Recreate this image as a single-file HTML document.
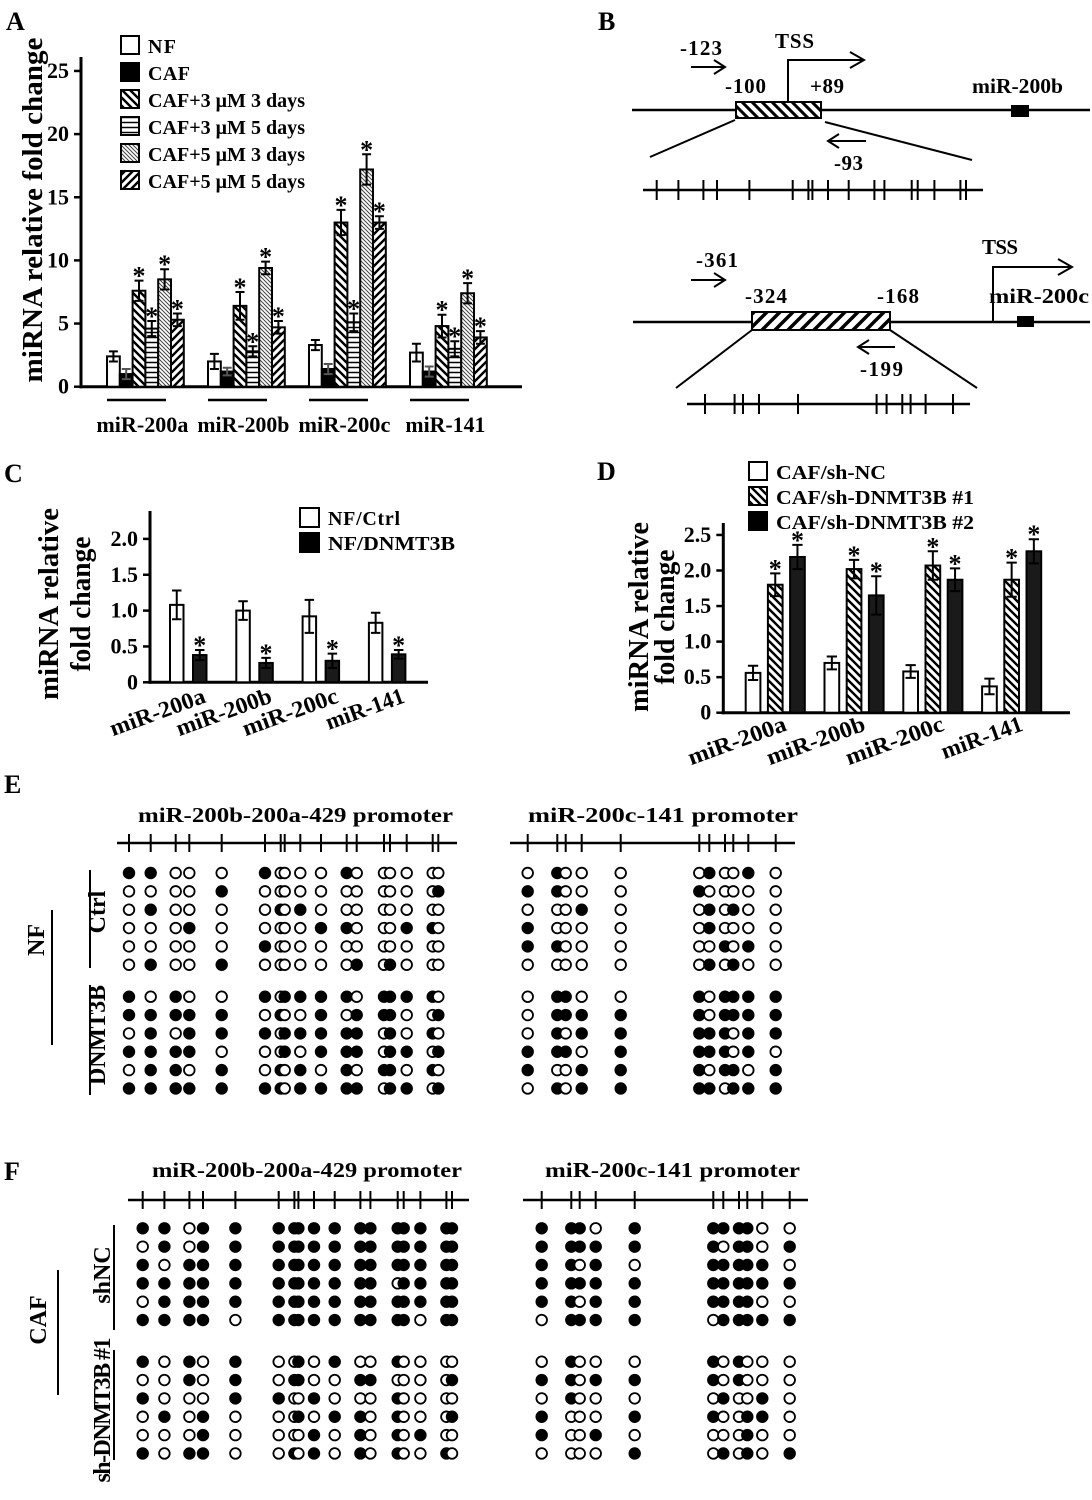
<!DOCTYPE html>
<html><head><meta charset="utf-8"><style>
body{margin:0;background:#fff}
svg{display:block;font-family:"Liberation Serif",serif;font-weight:bold}
</style></head><body>
<svg id="fig" width="1092" height="1500" viewBox="0 0 1092 1500">
<defs>
<pattern id="pBack" width="8" height="8" patternUnits="userSpaceOnUse"><rect width="8" height="8" fill="#fff"/><path d="M-2,-2 L10,10 M-2,6 L2,10 M6,-2 L10,2" stroke="#000" stroke-width="2.4"/></pattern>
<pattern id="pFwd" width="8" height="8" patternUnits="userSpaceOnUse"><rect width="8" height="8" fill="#fff"/><path d="M-2,10 L10,-2 M-2,2 L2,-2 M6,10 L10,6" stroke="#000" stroke-width="2.4"/></pattern>
<pattern id="pHor" width="6" height="5" patternUnits="userSpaceOnUse"><rect width="6" height="5" fill="#fff"/><path d="M0,2.5 L6,2.5" stroke="#000" stroke-width="1.5"/></pattern>
<pattern id="pThin" width="4" height="4" patternUnits="userSpaceOnUse"><rect width="4" height="4" fill="#fff"/><path d="M-1,-1 L5,5 M-1,3 L1,5 M3,-1 L5,1" stroke="#444" stroke-width="1"/></pattern>
<pattern id="pBox" width="10" height="10" patternUnits="userSpaceOnUse"><rect width="10" height="10" fill="#fff"/><path d="M-2,-2 L12,12 M-2,8 L2,12 M8,-2 L12,2" stroke="#000" stroke-width="3"/></pattern>
<pattern id="pBox2" width="13" height="13" patternUnits="userSpaceOnUse"><rect width="13" height="13" fill="#fff"/><path d="M-2,15 L15,-2 M-2,2 L2,-2 M11,15 L15,11" stroke="#000" stroke-width="3.5"/></pattern>
</defs>

<text x="6" y="30" font-size="26">A</text>
<text x="598" y="30" font-size="26">B</text>
<text x="4" y="482" font-size="26">C</text>
<text x="597" y="480" font-size="26">D</text>
<text x="4" y="793" font-size="26">E</text>
<text x="4" y="1180" font-size="26">F</text>

<g>
<text transform="translate(42,210) rotate(-90)" text-anchor="middle" font-size="28" textLength="345" lengthAdjust="spacingAndGlyphs">miRNA relative fold change</text>
<g font-size="20">
<rect x="121" y="36" width="18" height="18" fill="#fff" stroke="#000" stroke-width="2"/>
<text x="148" y="53" textLength="28">NF</text>
<rect x="121" y="63" width="18" height="18" fill="#000" stroke="#000" stroke-width="2"/>
<text x="148" y="80" textLength="42">CAF</text>
<rect x="121" y="90" width="18" height="18" fill="url(#pBack)" stroke="#000" stroke-width="2"/>
<text x="148" y="107" textLength="157" lengthAdjust="spacingAndGlyphs">CAF+3 μM  3 days</text>
<rect x="121" y="117" width="18" height="18" fill="url(#pHor)" stroke="#000" stroke-width="2"/>
<text x="148" y="134" textLength="157" lengthAdjust="spacingAndGlyphs">CAF+3 μM  5 days</text>
<rect x="121" y="144" width="18" height="18" fill="url(#pThin)" stroke="#000" stroke-width="2"/>
<text x="148" y="161" textLength="157" lengthAdjust="spacingAndGlyphs">CAF+5 μM  3 days</text>
<rect x="121" y="171" width="18" height="18" fill="url(#pFwd)" stroke="#000" stroke-width="2"/>
<text x="148" y="188" textLength="157" lengthAdjust="spacingAndGlyphs">CAF+5 μM  5 days</text>
</g>
<g id="aBars"></g>
</g>

<g font-size="21" stroke-linecap="butt">
<line x1="632" y1="110" x2="1090" y2="110" stroke="#000" stroke-width="2.5"/>
<rect x="736" y="102" width="85" height="16" fill="url(#pBox)" stroke="#000" stroke-width="2"/>
<polyline points="788,102 788,60 862,60" fill="none" stroke="#000" stroke-width="2"/>
<polyline points="850,52 864,60 850,68" fill="none" stroke="#000" stroke-width="2"/>
<text x="775" y="48" textLength="39">TSS</text>
<text x="680" y="55" textLength="42">-123</text>
<line x1="691" y1="67" x2="724" y2="67" stroke="#000" stroke-width="2"/>
<polyline points="714,60 725,67 714,74" fill="none" stroke="#000" stroke-width="2"/>
<text x="725" y="93" textLength="41">-100</text>
<text x="810" y="93" textLength="34">+89</text>
<text x="972" y="93" textLength="91" lengthAdjust="spacingAndGlyphs">miR-200b</text>
<rect x="1011" y="105" width="18" height="12" fill="#000"/>
<line x1="735" y1="120" x2="650" y2="157" stroke="#000" stroke-width="2"/>
<line x1="825" y1="122" x2="972" y2="160" stroke="#000" stroke-width="2"/>
<line x1="829" y1="141" x2="866" y2="141" stroke="#000" stroke-width="2"/>
<polyline points="839,134 828,141 839,148" fill="none" stroke="#000" stroke-width="2"/>
<text x="834" y="170" textLength="29">-93</text>
<g id="bCpg1"></g>

<line x1="633" y1="322" x2="1090" y2="322" stroke="#000" stroke-width="2.5"/>
<rect x="752" y="312" width="138" height="18" fill="url(#pBox2)" stroke="#000" stroke-width="2"/>
<polyline points="993,322 993,267 1070,267" fill="none" stroke="#000" stroke-width="2"/>
<polyline points="1058,259 1072,267 1058,275" fill="none" stroke="#000" stroke-width="2"/>
<text x="982" y="254" textLength="36">TSS</text>
<text x="696" y="267" textLength="42">-361</text>
<line x1="691" y1="280" x2="724" y2="280" stroke="#000" stroke-width="2"/>
<polyline points="714,273 725,280 714,287" fill="none" stroke="#000" stroke-width="2"/>
<text x="745" y="303" textLength="42">-324</text>
<text x="877" y="303" textLength="42">-168</text>
<text x="989" y="303" textLength="100" lengthAdjust="spacingAndGlyphs">miR-200c</text>
<rect x="1017" y="316" width="17" height="11" fill="#000"/>
<line x1="752" y1="330" x2="676" y2="388" stroke="#000" stroke-width="2"/>
<line x1="890" y1="330" x2="977" y2="388" stroke="#000" stroke-width="2"/>
<line x1="859" y1="347" x2="895" y2="347" stroke="#000" stroke-width="2"/>
<polyline points="869,340 858,347 869,354" fill="none" stroke="#000" stroke-width="2"/>
<text x="860" y="376" textLength="43">-199</text>
<g id="bCpg2"></g>
</g>

<g>
<text transform="translate(58,604) rotate(-90)" text-anchor="middle" font-size="28" textLength="192" lengthAdjust="spacingAndGlyphs">miRNA relative</text>
<text transform="translate(90,604) rotate(-90)" text-anchor="middle" font-size="28" textLength="135" lengthAdjust="spacingAndGlyphs">fold change</text>
<g font-size="20">
<rect x="300" y="508" width="19" height="19" fill="#fff" stroke="#000" stroke-width="2"/>
<text x="328" y="525" textLength="72">NF/Ctrl</text>
<rect x="300" y="533" width="19" height="19" fill="#000" stroke="#000" stroke-width="2"/>
<text x="328" y="550" textLength="127" lengthAdjust="spacingAndGlyphs">NF/DNMT3B</text>
</g>
<g id="cBars"></g>
</g>

<g>
<text transform="translate(648,617) rotate(-90)" text-anchor="middle" font-size="28" textLength="190" lengthAdjust="spacingAndGlyphs">miRNA relative</text>
<text transform="translate(674,617) rotate(-90)" text-anchor="middle" font-size="28" textLength="135" lengthAdjust="spacingAndGlyphs">fold change</text>
<g font-size="20">
<rect x="749" y="462" width="18" height="18" fill="#fff" stroke="#000" stroke-width="2"/>
<text x="776" y="479" textLength="110" lengthAdjust="spacingAndGlyphs">CAF/sh-NC</text>
<rect x="749" y="487" width="18" height="18" fill="url(#pBack)" stroke="#000" stroke-width="2"/>
<text x="776" y="504" textLength="198" lengthAdjust="spacingAndGlyphs">CAF/sh-DNMT3B #1</text>
<rect x="749" y="512" width="18" height="18" fill="#000" stroke="#000" stroke-width="2"/>
<text x="776" y="529" textLength="198" lengthAdjust="spacingAndGlyphs">CAF/sh-DNMT3B #2</text>
</g>
<g id="dBars"></g>
</g>

<g font-size="21">
<text x="138" y="822" textLength="315" lengthAdjust="spacingAndGlyphs">miR-200b-200a-429  promoter</text>
<text x="528" y="822" textLength="270" lengthAdjust="spacingAndGlyphs">miR-200c-141  promoter</text>
<text x="152" y="1177" textLength="310" lengthAdjust="spacingAndGlyphs">miR-200b-200a-429  promoter</text>
<text x="545" y="1177" textLength="255" lengthAdjust="spacingAndGlyphs">miR-200c-141  promoter</text>
<text transform="translate(105,912) rotate(-90)" text-anchor="middle" font-size="24">Ctrl</text>
<text transform="translate(105,1035) rotate(-90)" text-anchor="middle" font-size="24" textLength="100">DNMT3B</text>
<text transform="translate(44,940) rotate(-90)" text-anchor="middle" font-size="24">NF</text>
<line x1="90" y1="870" x2="90" y2="968" stroke="#000" stroke-width="2"/>
<line x1="90" y1="985" x2="90" y2="1095" stroke="#000" stroke-width="2"/>
<line x1="52" y1="910" x2="52" y2="1045" stroke="#000" stroke-width="2"/>
<text transform="translate(110,1275) rotate(-90)" text-anchor="middle" font-size="24">shNC</text>
<text transform="translate(110,1410) rotate(-90)" text-anchor="middle" font-size="24" textLength="145">sh-DNMT3B #1</text>
<text transform="translate(46,1320) rotate(-90)" text-anchor="middle" font-size="24">CAF</text>
<line x1="114" y1="1225" x2="114" y2="1330" stroke="#000" stroke-width="2"/>
<line x1="114" y1="1350" x2="114" y2="1460" stroke="#000" stroke-width="2"/>
<line x1="58" y1="1270" x2="58" y2="1395" stroke="#000" stroke-width="2"/>
</g>
<g id="meth"></g>
</svg>

<script>
// ---------- Panel A data ----------
const aCategories = ["miR-200a","miR-200b","miR-200c","miR-141"];
const aSeriesNames = ["NF","CAF","CAF+3uM 3d","CAF+3uM 5d","CAF+5uM 3d","CAF+5uM 5d"];
const aNF   = [2.4, 2.0, 3.3, 2.7];
const aCAF  = [1.0, 1.2, 1.4, 1.2];
const a3u3d = [7.6, 6.4, 13.0, 4.8];
const a3u5d = [4.6, 2.8, 5.1, 3.0];
const a5u3d = [8.5, 9.4, 17.2, 7.4];
const a5u5d = [5.3, 4.7, 13.0, 3.9];
const aNFerr   = [0.4, 0.6, 0.4, 0.7];
const aCAFerr  = [0.4, 0.3, 0.4, 0.4];
const a3u3dErr = [0.8, 1.1, 1.0, 0.9];
const a3u5dErr = [0.6, 0.4, 0.7, 0.6];
const a5u3dErr = [0.8, 0.5, 1.2, 0.8];
const a5u5dErr = [0.5, 0.5, 0.5, 0.5];
const aSig = [false,false,true,true,true,true];
const aTicks = [0,5,10,15,20,25];

// ---------- Panel C data ----------
const cCategories = ["miR-200a","miR-200b","miR-200c","miR-141"];
const cCtrl = [1.08, 1.0, 0.92, 0.83];
const cDnmt = [0.38, 0.27, 0.30, 0.39];
const cCtrlErr = [0.2, 0.13, 0.23, 0.14];
const cDnmtErr = [0.07, 0.07, 0.1, 0.06];
const cTicks = [0,0.5,1.0,1.5,2.0];
const cTickLabels = ["0","0.5","1.0","1.5","2.0"];

// ---------- Panel D data ----------
const dCategories = ["miR-200a","miR-200b","miR-200c","miR-141"];
const dNC  = [0.56, 0.70, 0.58, 0.37];
const dSh1 = [1.80, 2.02, 2.07, 1.87];
const dSh2 = [2.19, 1.65, 1.87, 2.27];
const dNCerr  = [0.10, 0.09, 0.09, 0.11];
const dSh1Err = [0.16, 0.13, 0.20, 0.24];
const dSh2Err = [0.17, 0.27, 0.16, 0.17];
const dTicks = [0,0.5,1.0,1.5,2.0,2.5];
const dTickLabels = ["0","0.5","1.0","1.5","2.0","2.5"];

// ---------- Methylation data (1 = methylated) ----------
const cpg200b = [0,21.7,46.7,60.3,92.7,136,151.7,155.7,171.3,192,217.7,227.7,255,261,277.7,303.7,309.3];
const cpg200c = [0,29.6,38,54,93,171.6,181.6,197.3,205.6,220.6,248];
const eLeftCtrl = ["11000100001000000","00001000000000001","01000010100000000","00010000011000110","00000100000000000","01001000000101000"];
const eLeftDnmt = ["10100101111011110","11111010010111001","01011101111101010","11110001011101101","01101010101011010","11111110111101101"];
const eRightCtrl = ["01000010010","11000100000","00010010100","10000010000","11000001010","00000010100"];
const eRightDnmt = ["01100101111","01111101111","01011111011","11101111010","10011101101","01011110111"];
const fLeftSh = ["11011111111111111","01011111111111111","10111111111111111","11111111111101111","01111111111111111","11110111111111011"];
const fLeftSh1 = ["10101001010010000","00101011001100001","10001100100010000","01010001011010001","00010000101010100","10110010101010010"];
const fRightSh = ["11101111100","11111101101","11010111110","11111111111","11011111100","01111011111"];
const fRightSh1 = ["01000101000","11011101000","01000010010","10001100110","10010000100","00001010101"];

const NS = "http://www.w3.org/2000/svg";
function mk(parent, tag, attrs){
  const e = document.createElementNS(NS, tag);
  for (const k in attrs) e.setAttribute(k, attrs[k]);
  parent.appendChild(e);
  return e;
}

function barChart(g, o){
  const y = v => o.y0 - v * o.k;
  const x = (gi, si) => o.x0 + gi * o.groupStep + si * o.barW;
  let el = mk(g, "line", {x1:o.axisX, y1:o.axisTop, x2:o.axisX, y2:o.y0+1.5, stroke:"#000","stroke-width":3});
  
  
  el = mk(g, "line", {x1:o.axisX-1.5, y1:o.y0, x2:o.axisEnd, y2:o.y0, stroke:"#000","stroke-width":3});
  
  
  o.ticks.forEach((t, i) => {
    const tk = mk(g, "line", {x1:o.axisX-7, y1:y(t), x2:o.axisX, y2:y(t), stroke:"#000","stroke-width":2.5});
    
    
    const tl = mk(g, "text", {x:o.axisX-12, y:y(t)+7, "text-anchor":"end","font-size":o.tickFont});
    tl.textContent = o.tickLabels[i];
    
    
  });
  o.series.forEach((s, si) => {
    s.vals.forEach((v, gi) => {
      const bx = x(gi, si), by = y(v);
      const r = mk(g, "rect", {x:bx, y:by, width:o.barW - o.gap, height:o.y0 - by, fill:s.fill, stroke:"#000","stroke-width":2});
      
      
      const cx = bx + (o.barW - o.gap) / 2, e = s.err[gi], cw = (o.barW - o.gap) * 0.35;
      const eb = mk(g, "path", {d:`M${cx},${y(v-e)}V${y(v+e)}M${cx-cw},${y(v+e)}H${cx+cw}M${cx-cw},${y(v-e)}H${cx+cw}`, stroke:s.errColor||"#000", "stroke-width":2, fill:"none"});
      
      
      if (s.sig){
        const st = mk(g, "text", {x:cx, y:y(v+e) + 4, "text-anchor":"middle","font-size":26});
        st.textContent = "*";
        
        
      }
    });
  });
  return {x, y};
}

const gA = document.getElementById("aBars");
const aFills = ["#fff","#000","url(#pBack)","url(#pHor)","url(#pThin)","url(#pFwd)"];
const aVals = [aNF,aCAF,a3u3d,a3u5d,a5u3d,a5u5d];
const aErrs = [aNFerr,aCAFerr,a3u3dErr,a3u5dErr,a5u3dErr,a5u5dErr];
const A = barChart(gA, {prefix:"a", x0:107, groupStep:101, barW:12.8, gap:0, y0:386.7, k:12.63,
  axisX:81, axisTop:57, axisEnd:522, ticks:aTicks, tickLabels:aTicks.map(String), tickFont:22, cats:aCategories,
  series:aVals.map((v,i)=>({vals:v, err:aErrs[i], fill:aFills[i], sig:aSig[i], errColor:i===1?"#555":"#000"}))});
aCategories.forEach((c, gi) => {
  const l = mk(gA, "line", {x1:A.x(gi,0), y1:400, x2:A.x(gi,5)-5, y2:400, stroke:"#000","stroke-width":2.5});
  
  
  const t = mk(gA, "text", {x:(A.x(gi,0)+A.x(gi,6))/2 - 3, y:432, "text-anchor":"middle","font-size":22, textLength: c.length>7?92:80, lengthAdjust:"spacingAndGlyphs"});
  t.textContent = c;
  
  
});

const gC = document.getElementById("cBars");
const C = barChart(gC, {prefix:"c", x0:170, groupStep:66.3, barW:23, gap:9.5, y0:682.3, k:71.7,
  axisX:150, axisTop:511, axisEnd:428, ticks:cTicks, tickLabels:cTickLabels, tickFont:22, cats:cCategories,
  series:[{vals:cCtrl, err:cCtrlErr, fill:"#fff", sig:false},{vals:cDnmt, err:cDnmtErr, fill:"#1a1a1a", sig:true}]});
cCategories.forEach((c, gi) => {
  const cx = C.x(gi,1) + 14;
  const t = mk(gC, "text", {x:0, y:0, "text-anchor":"end","font-size":23, textLength: c.length>7?100:82, lengthAdjust:"spacingAndGlyphs", transform:`translate(${cx},${702}) rotate(-20)`});
  t.textContent = c;
  
  
});

const gD = document.getElementById("dBars");
const D = barChart(gD, {prefix:"d", x0:745.7, groupStep:78.8, barW:22.2, gap:7.5, y0:712.7, k:71.1,
  axisX:723.3, axisTop:523, axisEnd:1070, ticks:dTicks, tickLabels:dTickLabels, tickFont:22, cats:dCategories,
  series:[{vals:dNC, err:dNCerr, fill:"#fff", sig:false},{vals:dSh1, err:dSh1Err, fill:"url(#pBack)", sig:true},{vals:dSh2, err:dSh2Err, fill:"#1a1a1a", sig:true}]});
dCategories.forEach((c, gi) => {
  const cx = D.x(gi,1) + 20;
  const t = mk(gD, "text", {x:0, y:0, "text-anchor":"end","font-size":23, textLength: c.length>7?103:85, lengthAdjust:"spacingAndGlyphs", transform:`translate(${cx},${730}) rotate(-20)`});
  t.textContent = c;
  
  
});

function cpgLine(g, sites, x0, y, xs, xe, h, name){
  let el = mk(g, "line", {x1:xs, y1:y, x2:xe, y2:y, stroke:"#000","stroke-width":2.5});
  
  
  sites.forEach(s => {
    const t = mk(g, "line", {x1:x0+s, y1:y-h, x2:x0+s, y2:y+h, stroke:"#000","stroke-width":2});
    
    
  });
}
cpgLine(document.getElementById("bCpg1"), cpg200b, 656.7, 190, 643, 983, 10, "b-cpg-map-1");
cpgLine(document.getElementById("bCpg2"), cpg200c, 705, 404, 687, 970, 10, "b-cpg-map-2");

const gM = document.getElementById("meth");
function lolli(sites, x0, xs, xe, lineY, rowY0, rowStep, groupGap, groups, name){
  cpgLine(gM, sites, x0, lineY, xs, xe, 9, name);
  groups.forEach((rows, gi) => {
    rows.forEach((row, ri) => {
      const cy = rowY0 + gi * groupGap + ri * rowStep;
      row.split("").forEach((b, si) => {
        const c = mk(gM, "circle", {cx:x0 + sites[si], cy:cy, r:5.3, fill:b==="1"?"#000":"#fff", stroke:"#000","stroke-width":1.8});
        
        
      });
    });
  });
}
lolli(cpg200b, 129, 117, 457, 843, 873, 18.35, 123.7, [eLeftCtrl, eLeftDnmt], "e-left");
lolli(cpg200c, 527.7, 510, 795, 843, 873, 18.35, 123.7, [eRightCtrl, eRightDnmt], "e-right");
lolli(cpg200b, 142.7, 128, 469, 1200, 1228.3, 18.35, 133.4, [fLeftSh, fLeftSh1], "f-left");
lolli(cpg200c, 541.7, 523, 808, 1200, 1228.3, 18.35, 133.4, [fRightSh, fRightSh1], "f-right");
</script>
</body></html>
